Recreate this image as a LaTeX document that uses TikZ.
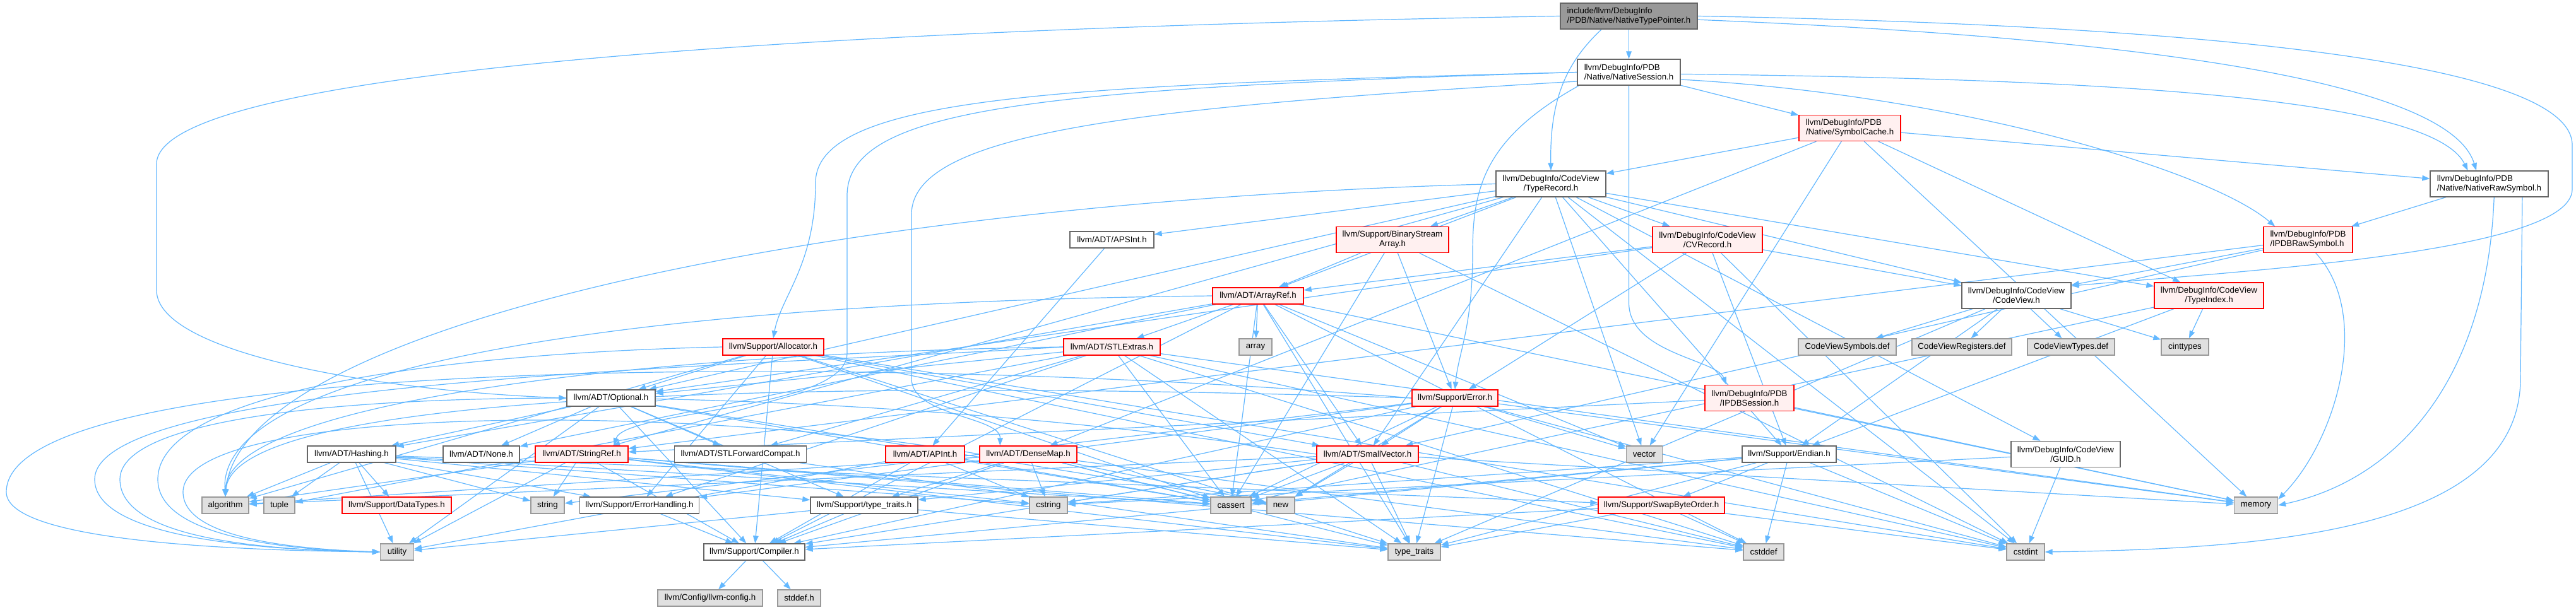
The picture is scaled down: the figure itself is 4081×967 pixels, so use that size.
\documentclass[tikz,border=0pt]{standalone}
\usepackage{fontspec}
\setmainfont{Liberation Sans}
\usetikzlibrary{arrows.meta,backgrounds}
\pgfdeclarelayer{bottom}
\pgfsetlayers{bottom,background,main}
\definecolor{edgeblue}{HTML}{63B8FF}
\definecolor{redfill}{HTML}{FFF0F0}
\definecolor{grayfill}{HTML}{E0E0E0}
\definecolor{rootfill}{HTML}{999999}
\definecolor{darkborder}{HTML}{666666}
\definecolor{lightborder}{HTML}{999999}
\tikzset{
  nodebase/.style={draw, line width=1pt, inner sep=0pt, font=\fontsize{10}{11.25}\selectfont, anchor=center, text=black},
  wbox/.style={nodebase, fill=white, draw=darkborder},
  rbox/.style={nodebase, fill=redfill, draw=red},
  gbox/.style={nodebase, fill=grayfill, draw=lightborder},
  rootbox/.style={nodebase, fill=rootfill, draw=darkborder},
  sz/.style 2 args={minimum width=#1*0.75pt, minimum height=#2*0.75pt},
  dep/.style={draw=edgeblue, line width=0.9pt, -{Triangle[length=9pt,width=6.5pt]}},
}
\begin{document}
\begin{tikzpicture}[x=0.75pt,y=-0.75pt]
\begin{pgfonlayer}{bottom}
\fill[white] (0,0) rectangle (4081,967);
\end{pgfonlayer}
\useasboundingbox (0,0) rectangle (4081,967);
% nodes
\node[rootbox, sz={217}{41}, align=left] (ntp) at (2580.5,25.5) {include/llvm/DebugInfo\\/PDB/Native/NativeTypePointer.h};
\node[wbox, sz={163}{41}, align=left] (ns) at (2580.5,114.5) {llvm/DebugInfo/PDB\\/Native/NativeSession.h};
\node[rbox, sz={161}{41}, align=left] (sc) at (2930.5,203) {llvm/DebugInfo/PDB\\/Native/SymbolCache.h};
\node[wbox, sz={174}{41}, align=center] (tr) at (2457,291.5) {llvm/DebugInfo/CodeView\\/TypeRecord.h};
\node[wbox, sz={187}{41}, align=left] (nrs) at (3943.5,291.5) {llvm/DebugInfo/PDB\\/Native/NativeRawSymbol.h};
\node[wbox, sz={133}{26}] (apsint) at (1761.5,380) {llvm/ADT/APSInt.h};
\node[rbox, sz={178}{41}, align=center] (bsa) at (2206,380) {llvm/Support/BinaryStream\\Array.h};
\node[rbox, sz={174}{41}, align=center] (cvr) at (2705,380) {llvm/DebugInfo/CodeView\\/CVRecord.h};
\node[rbox, sz={141}{41}, align=left] (ipdbrs) at (3656.5,380) {llvm/DebugInfo/PDB\\/IPDBRawSymbol.h};
\node[rbox, sz={144}{26}] (arrayref) at (1993,469) {llvm/ADT/ArrayRef.h};
\node[wbox, sz={173}{41}, align=center] (codeview) at (3194.5,468.5) {llvm/DebugInfo/CodeView\\/CodeView.h};
\node[rbox, sz={173}{41}, align=center] (typeindex) at (3499.5,468.5) {llvm/DebugInfo/CodeView\\/TypeIndex.h};
\node[rbox, sz={160}{26}] (allocator) at (1225,550) {llvm/Support/Allocator.h};
\node[rbox, sz={153}{26}] (stlextras) at (1761.5,550) {llvm/ADT/STLExtras.h};
\node[gbox, sz={52}{26}] (array) at (1989,550) {array};
\node[gbox, sz={155}{26}] (cvsym) at (2926.5,550) {CodeViewSymbols.def};
\node[gbox, sz={158}{26}] (cvreg) at (3108,550) {CodeViewRegisters.def};
\node[gbox, sz={138}{26}] (cvtypes) at (3281,550) {CodeViewTypes.def};
\node[gbox, sz={75}{26}] (cinttypes) at (3461.5,550) {cinttypes};
\node[wbox, sz={140}{26}] (optional) at (968,631) {llvm/ADT/Optional.h};
\node[rbox, sz={136}{26}] (error) at (2305,631) {llvm/Support/Error.h};
\node[rbox, sz={141}{41}, align=center] (ipdbsess) at (2771.5,631) {llvm/DebugInfo/PDB\\/IPDBSession.h};
\node[wbox, sz={140}{26}] (hashing) at (557,720) {llvm/ADT/Hashing.h};
\node[wbox, sz={121}{26}] (none) at (762.5,720) {llvm/ADT/None.h};
\node[rbox, sz={147}{26}] (stringref) at (921.5,720) {llvm/ADT/StringRef.h};
\node[wbox, sz={209}{26}] (stlfc) at (1173,720) {llvm/ADT/STLForwardCompat.h};
\node[rbox, sz={125}{26}] (apint) at (1465.5,720) {llvm/ADT/APInt.h};
\node[rbox, sz={154}{26}] (densemap) at (1629,720) {llvm/ADT/DenseMap.h};
\node[rbox, sz={161}{26}] (smallvector) at (2166.5,720) {llvm/ADT/SmallVector.h};
\node[gbox, sz={57}{26}] (vector) at (2605,720) {vector};
\node[wbox, sz={149}{26}] (endian) at (2834.5,720) {llvm/Support/Endian.h};
\node[wbox, sz={173}{41}, align=center] (guid) at (3272.5,720) {llvm/DebugInfo/CodeView\\/GUID.h};
\node[gbox, sz={74}{26}] (algorithm) at (357,801) {algorithm};
\node[gbox, sz={49}{26}] (tuple) at (442.5,801) {tuple};
\node[rbox, sz={173}{26}] (datatypes) at (628.5,801) {llvm/Support/DataTypes.h};
\node[gbox, sz={53}{26}] (string) at (867.5,801) {string};
\node[wbox, sz={189}{26}] (errhandling) at (1013,801) {llvm/Support/ErrorHandling.h};
\node[wbox, sz={170}{26}] (stt) at (1369,801) {llvm/Support/type\_traits.h};
\node[gbox, sz={60}{26}] (cstring) at (1661,801) {cstring};
\node[gbox, sz={64}{26}] (cassert) at (1950,801) {cassert};
\node[gbox, sz={44}{26}] (new) at (2029,801) {new};
\node[rbox, sz={200}{26}] (swap) at (2632,801) {llvm/Support/SwapByteOrder.h};
\node[gbox, sz={69}{26}] (memory) at (3574,801) {memory};
\node[gbox, sz={53}{26}] (utility) at (629,875) {utility};
\node[wbox, sz={160}{26}] (compiler) at (1195,875) {llvm/Support/Compiler.h};
\node[gbox, sz={83}{26}] (typetraits) at (2240.5,875) {type\_traits};
\node[gbox, sz={64}{26}] (cstddef) at (2794,875) {cstddef};
\node[gbox, sz={60}{26}] (cstdint) at (3209,875) {cstdint};
\node[gbox, sz={166}{26}] (llvmconfig) at (1125,948) {llvm/Config/llvm-config.h};
\node[gbox, sz={68}{26}] (stddef) at (1266,948) {stddef.h};
% edges
\begin{pgfonlayer}{background}
\draw[dep] (ntp.west) .. controls (1600,40) and (248,90) .. (248,260) -- (248,460) .. controls (248,560) and (600,620) .. (optional.west);
\draw[dep] (ntp.east) .. controls (3500,40) and (4075,100) .. (4075,230) -- (4075,300) .. controls (4075,400) and (3550,430) .. (codeview.10);
\draw[dep] (ntp.206) .. controls (2480,100) and (2455,160) .. (tr.north);
\draw[dep] (ntp.-3) .. controls (3400,60) and (3880,130) .. (nrs.134);
\draw[dep] (ntp) -- (ns);
\draw[dep] (ns.west) .. controls (1700,135) and (1292,150) .. (1292,290) .. controls (1292,420) and (1237,470) .. (allocator.north);
\draw[dep] (ns.west) .. controls (1650,140) and (1342,170) .. (1342,310) -- (1342,560) .. controls (1342,650) and (990,650) .. (stringref.15);
\draw[dep] (ns.190) .. controls (1800,170) and (1444,210) .. (1444,340) -- (1444,600) .. controls (1444,660) and (1585,660) .. (densemap.163);
\draw[dep] (ns.195) .. controls (2350,220) and (2333,300) .. (2333,400) .. controls (2333,520) and (2310,560) .. (error.north);
\draw[dep] (ns.south) -- (2580.5,480) .. controls (2580.5,560) and (2720,570) .. (ipdbsess.150);
\draw[dep] (ns.-2) .. controls (3300,125) and (3850,150) .. (nrs.148);
\draw[dep] (ns.-8) .. controls (3100,150) and (3500,270) .. (ipdbrs.158);
% long loops on the left
\draw[dep] (error.west) .. controls (1400,560) and (10,560) .. (10,780) .. controls (10,850) and (300,872) .. (utility.west);
\draw[dep] (smallvector.west) .. controls (1300,600) and (190,590) .. (190,760) .. controls (190,850) and (400,872) .. (utility.west);
\draw[dep] (densemap.west) .. controls (1100,640) and (290,640) .. (290,780) .. controls (290,850) and (450,870) .. (utility.west);
\draw[dep] (allocator.west) .. controls (700,560) and (250,620) .. (250,760) .. controls (250,850) and (450,872) .. (utility.west);
\draw[dep] (stlextras.west) .. controls (1200,580) and (150,600) .. (150,760) .. controls (150,850) and (400,872) .. (utility.west);
\draw[dep] (tr.west) .. controls (1300,320) and (380,520) .. (algorithm.north);
\draw[dep] (arrayref.west) .. controls (900,480) and (345,600) .. (algorithm.north);
\draw[dep] (error.west) .. controls (1300,600) and (370,620) .. (algorithm.north);
\draw[dep] (stlextras.west) .. controls (1000,560) and (360,640) .. (algorithm.north);
% long loops on the right
\draw[dep] (nrs.-22) -- (3993,600) .. controls (3993,840) and (3600,870) .. (cstdint.east);
\draw[dep] (nrs.-70) .. controls (3940,600) and (3800,760) .. (memory.east);
\draw[dep] (ipdbrs.-60) .. controls (3760,500) and (3700,700) .. (memory.15);
\foreach \a/\b in {ns/sc,
 sc/tr, sc/nrs, sc/typeindex, sc/densemap, sc/memory, sc/vector,
 tr/apsint, tr/arrayref, tr/optional, tr/smallvector, tr/stringref, tr/cvr, tr/codeview, tr/guid, tr/typeindex, tr/bsa, tr/endian, tr/cstdint, tr/vector,
 nrs/ipdbrs,
 apsint/apint,
 bsa/arrayref, bsa/error, bsa/cassert, bsa/cstdint,
 cvr/arrayref, cvr/optional, cvr/codeview, cvr/error, cvr/endian, cvr/cstdint,
 ipdbrs/codeview, ipdbrs/smallvector, ipdbrs/stringref,
 arrayref/hashing, arrayref/none, arrayref/smallvector, arrayref/stlextras, arrayref/compiler, arrayref/array, arrayref/cassert, arrayref/cstddef, arrayref/memory, arrayref/typetraits, arrayref/vector,
 codeview/cvsym, codeview/cvreg, codeview/cvtypes, codeview/cinttypes, codeview/typetraits, codeview/endian,
 typeindex/endian, typeindex/cassert, typeindex/cinttypes,
 allocator/optional, allocator/smallvector, allocator/compiler, allocator/errhandling, allocator/algorithm, allocator/cassert, allocator/cstddef, allocator/cstdint, allocator/typetraits,
 stlextras/optional, stlextras/stlfc, stlextras/errhandling, stlextras/cassert, stlextras/cstddef, stlextras/cstdint, stlextras/memory, stlextras/tuple, stlextras/typetraits,
 optional/none, optional/stlfc, optional/hashing, optional/compiler, optional/stt, optional/cassert, optional/new, optional/utility,
 error/smallvector, error/compiler, error/errhandling, error/cassert, error/cstdint, error/memory, error/new, error/string, error/typetraits, error/vector,
 ipdbsess/stringref, ipdbsess/memory,
 hashing/datatypes, hashing/errhandling, hashing/swap, hashing/stt, hashing/algorithm, hashing/cassert, hashing/cstring, hashing/string, hashing/tuple, hashing/utility,
 stringref/compiler, stringref/algorithm, stringref/cassert, stringref/cstddef, stringref/cstring, stringref/string, stringref/typetraits, stringref/utility,
 stlfc/typetraits,
 apint/compiler, apint/cassert, apint/cstring, apint/utility,
 densemap/compiler, densemap/stt, densemap/algorithm, densemap/cassert, densemap/cstddef, densemap/cstring, densemap/new, densemap/typetraits,
 smallvector/compiler, smallvector/stt, smallvector/algorithm, smallvector/cassert, smallvector/cstddef, smallvector/cstring, smallvector/memory, smallvector/new, smallvector/typetraits,
 endian/compiler, endian/swap, endian/cassert, endian/cstddef, endian/cstdint, endian/cstring, endian/typetraits,
 guid/cstdint, guid/cstring,
 errhandling/compiler,
 stt/compiler, stt/typetraits, stt/utility,
 swap/compiler, swap/cstddef, swap/cstdint, swap/typetraits,
 compiler/llvmconfig, compiler/stddef}
 \draw[dep] (\a) -- (\b);
\end{pgfonlayer}
\end{tikzpicture}
\end{document}
